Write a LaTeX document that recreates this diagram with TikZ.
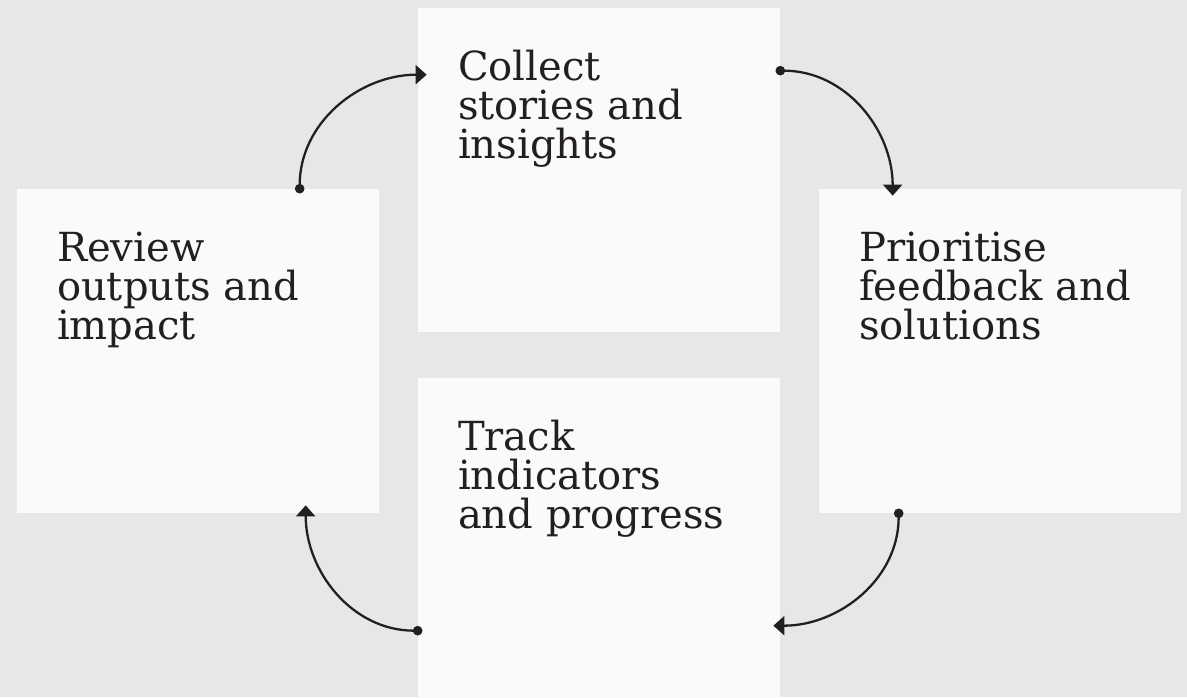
\documentclass[tikz,border=0pt]{standalone}
\usepackage{fontspec}
\setmainfont{DejaVu Serif}
\usetikzlibrary{arrows.meta}

\definecolor{bggrey}{HTML}{E6E7E9}
\definecolor{boxwhite}{HTML}{FAFAFA}
\definecolor{ink}{HTML}{231F20}

\tikzset{
  stage/.style={fill=boxwhite, inner sep=0pt, minimum width=7.24cm, minimum height=6.48cm},
  stagetext/.style={anchor=base west, align=left, inner sep=0pt, text=ink,
    font=\fontsize{22.8}{22.2}\selectfont},
  cycle/.style={ink, line width=1.3pt, shorten <=-2.7pt,
    {Circle[length=5.4pt]}-{Triangle[length=6.3pt,width=10.8pt]}}
}

\begin{document}
\begin{tikzpicture}[x=0.02cm,y=-0.02cm]
        \useasboundingbox (0,0) rectangle (1187,697);
        \clip (0,0) rectangle (1187,697);
        \fill[bggrey] (0,0) rectangle (1187,697);

        % boxes
        \node[stage] (collect) at (599,170) {};
        \node[stage] (review) at (198,351) {};
        \node[stage] (prioritise) at (1000,351) {};
        \node[stage] (track) at (599,540) {};

        % labels (base is on the last line)
        \node[stagetext] (collect-text) at ([shift={(40,151)}]collect.north west) {Collect\\stories and\\insights};
        \node[stagetext] (review-text) at ([shift={(40,151)}]review.north west) {Review\\outputs and\\impact};
        \node[stagetext] (prioritise-text) at ([shift={(40,151)}]prioritise.north west) {Prioritise\\feedback and\\solutions};
        \node[stagetext] (track-text) at ([shift={(40,151)}]track.north west) {Track\\indicators\\and progress};

        % arrow ends
        \coordinate (review-out) at ([shift={(283,0)}]review.north west);
        \coordinate (collect-in) at ([shift={(9,67)}]collect.north west);
        \coordinate (collect-out) at ([shift={(0,63)}]collect.north east);
        \coordinate (prioritise-in) at ([shift={(74,7)}]prioritise.north west);
        \coordinate (prioritise-out) at ([shift={(80,0)}]prioritise.south west);
        \coordinate (track-in) at ([shift={(-7,248)}]track.north east);
        \coordinate (track-out) at ([shift={(0,253)}]track.north west);
        \coordinate (review-in) at ([shift={(289,-8)}]review.south west);

        % cycle
        \draw[cycle] (review-out) to[out=90,in=180] (collect-in);
        \draw[cycle] (collect-out) to[out=0,in=90] (prioritise-in);
        \draw[cycle] (prioritise-out) to[out=-90,in=0] (track-in);
        \draw[cycle] (track-out) to[out=180,in=-90] (review-in);
    \end{tikzpicture}
\end{document}
